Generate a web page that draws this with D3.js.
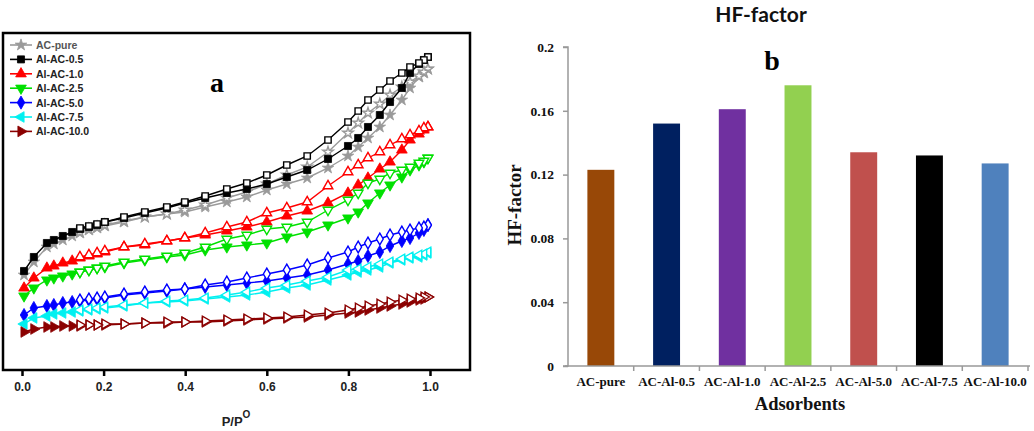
<!DOCTYPE html>
<html><head><meta charset="utf-8">
<script src="https://cdn.jsdelivr.net/npm/d3@7"></script>
<style>body{margin:0;background:#fff}svg{display:block}</style>
</head><body>
<svg id="c" width="1034" height="431"></svg>
<script>
// ---------- Panel a data (relative pressure P/P0 and adsorbed amount, arbitrary units) ----------
const pAds = [0.005,0.029,0.061,0.078,0.1,0.123,0.142,0.164,0.184,0.203,0.25,0.301,0.355,0.399,0.449,0.502,0.551,0.6,0.649,0.699,0.75,0.799,0.824,0.848,0.877,0.902,0.931,0.951,0.973,0.985,0.995];
const pDes = [0.995,0.985,0.973,0.951,0.931,0.902,0.877,0.848,0.824,0.799,0.75,0.699,0.649,0.6,0.551,0.502,0.449,0.399,0.355,0.301,0.25,0.203,0.184,0.164,0.142];

const acPureAds = [95,108,123,126,130,134,137,140,142,144,148,153,156,158,163,168,173,180,186,192,202,214,223,232,243,255,270,282,293,297,301];
const acPureDes = [301,298,294,288,283,275,266,257,247,237,218,203,195,186,178,172,165,160,156,153,149,145,143,141,138];
const al05Ads = [99,113,127,130,134,138,141,143,145,148,152,157,162,167,172,177,181,186,193,200,211,224,232,243,255,268,282,297,306,310,313];
const al05Des = [313,310,307,303,297,289,280,270,259,248,230,214,205,195,187,181,174,168,163,158,153,148,146,144,142];
const al10Ads = [82,92,102,104,107,109,112,114,116,118,123,125,129,132,135,139,143,148,154,159,167,177,185,192,201,208,220,230,236,240,243];
const al10Des = [243,242,239,235,231,225,218,212,205,198,184,168,162,157,148,143,137,132,129,126,123,119,117,115,113];
const al25Ads = [74,82,90,92,94,96,98,100,102,103,107,110,113,115,120,123,125,127,133,138,145,152,158,167,177,185,193,200,205,208,212];
const al25Des = [212,209,207,203,200,197,191,187,177,170,160,148,143,141,135,131,123,117,114,111,108,104,102,100,98];
const al50Ads = [55,62,64,65,67,68,69,70,71,72,75,77,79,81,83,85,87,89,92,95,100,106,109,114,118,124,129,132,137,140,145];
const al50Des = [145,143,142,140,138,135,131,127,123,118,112,105,100,96,92,88,85,81,80,78,76,73,72,71,70];
const al75Ads = [46,52,54,56,57,58,59,60,61,62,64,67,68,69,71,73,75,78,82,85,90,95,98,100,103,107,110,112,113,115,117];
const al75Des = [118,116,115,113,111,108,106,103,101,100,93,89,85,82,78,75,72,70,69,67,65,63,62,61,60];
const al100Ads = [38,41,43,43,44,44,44,45,45,45,46,47,47,48,48,49,50,51,52,53,55,57,58,60,62,64,66,68,70,71,73];
const al100Des = [73,73,72,71,70,68,66,64,62,60,57,55,53,52,51,50,49,48,48,47,46,46,45,45,45];

const seriesNames = ["AC-pure","Al-AC-0.5","Al-AC-1.0","Al-AC-2.5","Al-AC-5.0","Al-AC-7.5","Al-AC-10.0"];
const xTicksA = [0,0.2,0.4,0.6,0.8,1.0];

// ---------- Panel b data ----------
const adsorbents = ["AC-pure","AC-Al-0.5","AC-Al-1.0","AC-Al-2.5","AC-Al-5.0","AC-Al-7.5","AC-Al-10.0"];
const hfFactor = [0.123,0.152,0.161,0.176,0.134,0.132,0.127];
const yTicksB = [0,0.04,0.08,0.12,0.16,0.2];

// ---------- styles ----------
const seriesStyle = [
  {c:"#9a9a9a", sym:d3.symbolStar, rot:0, size:42},
  {c:"#000000", sym:d3.symbolSquare, rot:0, size:50},
  {c:"#ff0000", sym:d3.symbolTriangle, rot:0, size:50},
  {c:"#00e000", sym:d3.symbolTriangle, rot:180, size:50},
  {c:"#0000ff", sym:d3.symbolDiamond, rot:0, size:50},
  {c:"#00f0f0", sym:d3.symbolTriangle, rot:-90, size:50},
  {c:"#8b0000", sym:d3.symbolTriangle, rot:90, size:50}
];
const barColors = ["#984807","#002060","#7030a0","#92d050","#c0504d","#000000","#4f81bd"];

const adsData = [acPureAds, al05Ads, al10Ads, al25Ads, al50Ads, al75Ads, al100Ads];
const desData = [acPureDes, al05Des, al10Des, al25Des, al50Des, al75Des, al100Des];

const svg = d3.select("#c");

// ================= Panel a =================
const xA = d3.scaleLinear().domain([0,1]).range([22,430]);
const yA = d3.scaleLinear().domain([0,340]).range([370,30]);
const gA = svg.append("g");

const line = d3.line().x(d=>xA(d[0])).y(d=>yA(d[1]));

seriesNames.forEach((name,i)=>{
  const st = seriesStyle[i];
  const sym = d3.symbol().type(st.sym).size(st.size);
  const ads = pAds.map((p,j)=>[p, adsData[i][j]]);
  const des = pDes.map((p,j)=>[p, desData[i][j]]);
  const g = gA.append("g");
  g.append("path").attr("d", line(ads)).attr("fill","none").attr("stroke",st.c).attr("stroke-width",1.4);
  g.append("path").attr("d", line(des)).attr("fill","none").attr("stroke",st.c).attr("stroke-width",1.4);
  g.selectAll(".a").data(ads).enter().append("path")
    .attr("d", sym).attr("transform", d=>`translate(${xA(d[0])},${yA(d[1])}) rotate(${st.rot})`)
    .attr("fill", st.c).attr("stroke", st.c).attr("stroke-width",0.8);
  g.selectAll(".d").data(des).enter().append("path")
    .attr("d", d3.symbol().type(st.sym).size(st.size*0.8)).attr("transform", d=>`translate(${xA(d[0])},${yA(d[1])}) rotate(${st.rot})`)
    .attr("fill", "#fff").attr("stroke", st.c).attr("stroke-width",1.4);
});

// frame
gA.append("rect").attr("x",3).attr("y",33).attr("width",467).attr("height",337)
  .attr("fill","none").attr("stroke","#000").attr("stroke-width",2.5);

// x axis ticks
const axA = d3.axisBottom(xA).tickValues(xTicksA).tickFormat(d3.format(".1f")).tickSize(6).tickPadding(6);
const axAg = gA.append("g").attr("transform","translate(0,370)").call(axA);
axAg.select(".domain").remove();
axAg.selectAll(".tick line").attr("stroke","#000").attr("stroke-width",2.5);
axAg.selectAll("text").attr("font-family","Liberation Sans, Arial, sans-serif").attr("font-weight","bold").attr("font-size",12).attr("fill","#222");

// x label
const xl = gA.append("text").attr("x",236).attr("y",426).attr("text-anchor","middle")
  .attr("font-family","Liberation Sans, Arial, sans-serif").attr("font-weight","bold").attr("font-size",13).attr("fill","#222");
xl.append("tspan").text("P/P");
xl.append("tspan").attr("dy",-8).attr("font-size",10).text("O");

// "a" label
gA.append("text").attr("x",217).attr("y",92).attr("text-anchor","middle")
  .attr("font-family","Liberation Serif, Times New Roman, serif").attr("font-weight","bold").attr("font-size",28).text("a");

// legend
seriesNames.forEach((name,i)=>{
  const st = seriesStyle[i];
  const y = 45 + i*14.4;
  const lg = gA.append("g");
  lg.append("line").attr("x1",10).attr("x2",32).attr("y1",y).attr("y2",y).attr("stroke",st.c).attr("stroke-width",1.6);
  lg.append("path").attr("d", d3.symbol().type(st.sym).size(st.size)())
    .attr("transform",`translate(21,${y}) rotate(${st.rot})`).attr("fill",st.c).attr("stroke",st.c).attr("stroke-width",0.8);
  lg.append("text").attr("x",36).attr("y",y+4).attr("font-family","Liberation Sans, Arial, sans-serif")
    .attr("font-weight","bold").attr("font-size",10.5).attr("fill", i===0 ? "#555" : "#222").text(name);
});

// ================= Panel b =================
const xB = d3.scaleBand().domain(adsorbents).range([568,1028]).paddingInner(0.59).paddingOuter(0.295);
const xBand = d3.scaleBand().domain(adsorbents).range([568,1028]);
const yB = d3.scaleLinear().domain([0,0.2]).range([366,47]);
const gB = svg.append("g");

gB.selectAll("rect.bar").data(adsorbents).enter().append("rect")
  .attr("x", d=>xB(d)).attr("width", xB.bandwidth())
  .attr("y", (d,i)=>yB(hfFactor[i])).attr("height",(d,i)=>yB(0)-yB(hfFactor[i]))
  .attr("fill",(d,i)=>barColors[i]);

// y axis
const ayB = d3.axisLeft(yB).tickValues(yTicksB).tickFormat(d=>d===0?"0":String(+d.toFixed(2))).tickSize(5).tickPadding(9);
const ayg = gB.append("g").attr("transform","translate(568,0)").call(ayB);
ayg.select(".domain").attr("stroke","#999").attr("stroke-width",1.5).attr("d","M-5,47H0V366H-5");
ayg.selectAll(".tick line").attr("stroke","#999").attr("stroke-width",1.5);
ayg.selectAll("text").attr("font-family","Liberation Serif, Times New Roman, serif").attr("font-weight","bold").attr("font-size",13.5).attr("fill","#111");

// x axis line with category separators
gB.append("line").attr("x1",565).attr("x2",1030).attr("y1",366).attr("y2",366).attr("stroke","#999").attr("stroke-width",1.5);
const seps = adsorbents.map(d=>xBand(d)+xBand.bandwidth());
gB.selectAll("line.sep").data(seps).enter().append("line")
  .attr("x1",d=>d).attr("x2",d=>d).attr("y1",366).attr("y2",371).attr("stroke","#999").attr("stroke-width",1.5);

// category labels
gB.selectAll("text.cat").data(adsorbents).enter().append("text")
  .attr("x", d=>xBand(d)+xBand.bandwidth()/2).attr("y",386).attr("text-anchor","middle")
  .attr("font-family","Liberation Serif, Times New Roman, serif").attr("font-weight","bold").attr("font-size",13).attr("fill","#111")
  .text(d=>d);

// axis titles
gB.append("text").attr("x",800).attr("y",410).attr("text-anchor","middle")
  .attr("font-family","Liberation Serif, Times New Roman, serif").attr("font-weight","bold").attr("font-size",18.5).attr("fill","#111").text("Adsorbents");
gB.append("text").attr("transform","translate(521,205) rotate(-90)").attr("text-anchor","middle")
  .attr("font-family","Liberation Serif, Times New Roman, serif").attr("font-weight","bold").attr("font-size",19).attr("fill","#111").text("HF-factor");

// title
gB.append("text").attr("x",761).attr("y",22).attr("text-anchor","middle")
  .attr("font-family","Lato, Open Sans, sans-serif").attr("font-weight","bold").attr("font-size",21).attr("fill","#111").text("HF-factor");

// "b" label
gB.append("text").attr("x",772).attr("y",70).attr("text-anchor","middle")
  .attr("font-family","Liberation Serif, Times New Roman, serif").attr("font-weight","bold").attr("font-size",28).text("b");
</script>
</body></html>
